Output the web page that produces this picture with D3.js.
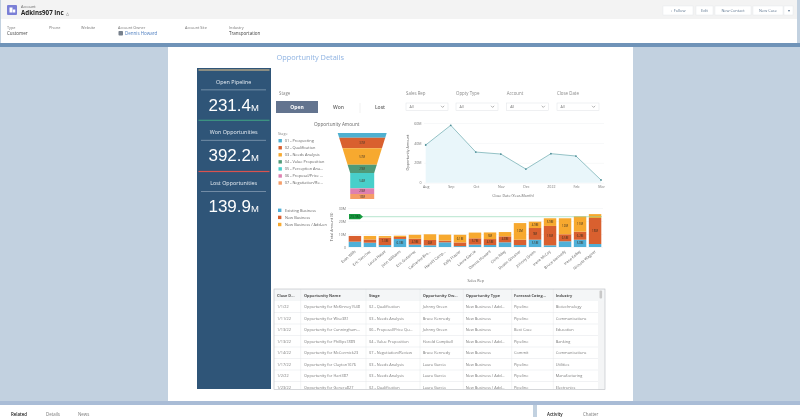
<!DOCTYPE html>
<html>
<head>
<meta charset="utf-8">
<script src="https://cdn.jsdelivr.net/npm/d3@7"></script>
<style>
  html, body { margin: 0; padding: 0; background: #fff; overflow: hidden; }
  svg { display: block; font-family: "Open Sans", sans-serif; filter: blur(0.4px); }
  .axis text { font-size: 3.6px; fill: #777; font-family: "Open Sans", sans-serif; }
  .axis line { stroke: #eef1f3; stroke-width: 0.5; }
  .axis .domain { display: none; }
</style>
</head>
<body>
<div id="chart"></div>
<script>
// funnel
var stages = ["01 - Prospecting", "02 - Qualification", "03 - Needs Analysis", "04 - Value Proposition",
  "05 - Perception Ana...", "06 - Proposal/Price ...", "07 - Negotiation/Re..."];
var stageAmounts = [16.4, 37.4, 57.3, 29.2, 53.8, 19.9, 17.5];
var stageLabels = ["", "37M", "57M", "29M", "54M", "20M", "18M"];
var stageColors = ["#4fb0d0", "#d9602f", "#f7a92f", "#4f9a78", "#48cfca", "#de80b0", "#f59d68"];

// line chart
var months = ["Aug", "Sep", "Oct", "Nov", "Dec", "2022", "Feb", "Mar"];
var monthAmounts = [37.9, 57.7, 30.8, 28.8, 13.7, 29.2, 26.8, 2.7];
var lineTicks = [0, 20, 40, 60];

// stacked bars
var reps = ["Evan Wills", "Eric Sanchez", "Laura Hasse", "John Williams", "Eric Gutierrez", "Catherine Bro...",
  "Harold Camp...", "Kelly Frazier", "Laura Garcia", "Dennis Howard", "Chris Riley", "Dustin Ghosher",
  "Johnny Green", "Irene McCoy", "Bruce Kennedy", "Irene Kelley", "Nichole Wagner"];
var existingBusiness = [4.1, 3.3, 1.5, 6.2, 1.8, 1.3, 3.6, 0.7, 1.8, 1.5, 3.6, 1.5, 5.6, 1.3, 4.4, 5.6, 2.3];
var newBusiness = [4.4, 2.5, 5.6, 1.5, 4.6, 4.1, 1.3, 2.8, 4.9, 4.6, 4.6, 4.1, 9.0, 14.9, 5.4, 6.2, 20.0];
var addOn = [0, 2.7, 1.3, 1.0, 3.0, 4.4, 4.6, 5.9, 4.4, 5.1, 3.3, 12.8, 4.9, 5.9, 12.3, 11.8, 3.0];
var existingLabels = ["", "", "", "6.3M", "", "", "", "", "", "", "", "", "5.5M", "", "", "5.8M", ""];
var newLabels = ["", "", "7.3M", "", "4.9M", "6M", "", "", "5.7M", "4.5M", "4.8M", "", "9M", "15M", "6.5M", "6.2M", "18M"];
var addOnLabels = ["", "", "", "", "", "", "", "6.1M", "", "5M", "", "12M", "4.9M", "5.9M", "12M", "11M", ""];
var seriesNames = ["Existing Business", "New Business", "New Business / Add-on"];
var seriesColors = ["#4fb0d8", "#d9602f", "#f7a92f"];
var barTicks = [0, 10, 20, 30];
var goalValue = 23.3;
var goalLabel = "23.9M";

// kpi panel
var kpiTitles = ["Open Pipeline", "Won Opportunities", "Lost Opportunities"];
var kpiValues = ["231.4", "392.2", "139.9"];
var kpiStripes = ["#c9b48a", "#3f9a82", "#d9534f"];

// table
var tableHeads = ["Close D...", "Opportunity Name", "Stage", "Opportunity Ow...", "Opportunity Type", "Forecast Categ...", "Industry"];
var closeDates = ["1/1/22", "1/11/22", "1/13/22", "1/13/22", "1/14/22", "1/17/22", "1/2/22", "1/23/22"];
var oppNames = ["Opportunity for McKinney1548", "Opportunity for Wise381", "Opportunity for Cunningham...", "Opportunity for Phillips1889",
  "Opportunity for McCormick23", "Opportunity for Clayton1676", "Opportunity for Hart387", "Opportunity for Genera827"];
var oppStages = ["02 - Qualification", "03 - Needs Analysis", "06 - Proposal/Price Qu...", "04 - Value Proposition",
  "07 - Negotiation/Review", "03 - Needs Analysis", "03 - Needs Analysis", "02 - Qualification"];
var owners = ["Johnny Green", "Bruce Kennedy", "Johnny Green", "Harold Campbell", "Bruce Kennedy", "Laura Garcia", "Laura Garcia", "Laura Garcia"];
var oppTypes = ["New Business / Add...", "New Business", "New Business", "New Business / Add...", "New Business", "New Business", "New Business / Add...", "New Business / Add..."];
var forecasts = ["Pipeline", "Pipeline", "Best Case", "Pipeline", "Commit", "Pipeline", "Pipeline", "Pipeline"];
var industries = ["Biotechnology", "Communications", "Education", "Banking", "Communications", "Utilities", "Manufacturing", "Electronics"];

// record header
var fieldNames = ["Type", "Phone", "Website", "Account Owner", "Account Site", "Industry"];
var fieldValues = ["Customer", "", "", "Dennis Howard", "", "Transportation"];
var buttonNames = ["+ Follow", "Edit", "New Contact", "New Case", "▾"];

var svg = d3.select("#chart").append("svg").attr("width", 800).attr("height", 417);

function label(g, x, y, str, size, color, anchor, weight) {
  return g.append("text").attr("x", x).attr("y", y)
    .attr("font-size", size).attr("fill", color)
    .attr("text-anchor", anchor || "start")
    .attr("font-weight", weight || 400)
    .text(str);
}

function rect(g, x, y, w, h, fill) {
  return g.append("rect").attr("x", x).attr("y", y).attr("width", w).attr("height", h).attr("fill", fill);
}

// ---- page background
rect(svg, 0, 0, 800, 417, "#c2d1e0");
rect(svg, 0, 43, 800, 4, "#6f93b8");
rect(svg, 168, 47, 465, 354, "#ffffff");
rect(svg, 0, 401, 800, 4, "#a9bcd6");

// ---- record header
var head = svg.append("g");
rect(head, 1, 0, 796, 43, "#ffffff");
rect(head, 1, 0, 796, 19, "#f3f3f3");
rect(head, 7, 5, 10, 10, "#7a7fd6").attr("rx", 1);
rect(head, 9.5, 7.5, 3, 5, "#ffffff");
rect(head, 12.8, 9.5, 2.5, 3, "#ffffff");
label(head, 21, 8, "Account", 3.9, "#666");
label(head, 21, 15, "Adkins907 Inc", 6.2, "#222", "start", 700);
label(head, 66, 14.5, "△", 4, "#666");

var fieldX = [7, 49, 81, 118, 185, 229];
fieldNames.forEach(function(name, i) {
  label(head, fieldX[i], 28.5, name, 3.8, "#777");
  var isLink = fieldValues[i] === "Dennis Howard";
  label(head, fieldX[i] + (isLink ? 7 : 0), 35, fieldValues[i], 4.5, isLink ? "#4f7fc0" : "#444");
});
rect(head, 118.5, 31, 4.5, 4.5, "#77808c").attr("rx", 0.8);

var buttonX = [663, 696, 715, 753, 784];
var buttonW = [30, 17, 36, 30, 9];
buttonNames.forEach(function(name, i) {
  rect(head, buttonX[i], 6, buttonW[i], 9, "#ffffff").attr("stroke", "#e2e5e8").attr("stroke-width", 0.4);
  label(head, buttonX[i] + buttonW[i] / 2, 12, name, 3.9, "#5e7690", "middle");
});

// ---- footer tabs
var foot = svg.append("g");
rect(foot, 0, 405, 533, 12, "#ffffff");
rect(foot, 537, 405, 263, 12, "#ffffff");
label(foot, 11, 416, "Related", 4.4, "#222", "start", 600);
label(foot, 46, 416, "Details", 4.4, "#777");
label(foot, 78, 416, "News", 4.4, "#777");
label(foot, 547, 416, "Activity", 4.4, "#222", "start", 600);
label(foot, 583, 416, "Chatter", 4.4, "#777");

// ---- dashboard title
label(svg, 276.5, 60, "Opportunity Details", 7.4, "#8fb3e2");

// ---- kpi panel
var kpi = svg.append("g");
rect(kpi, 197, 68, 74, 321, "#2f5578");
var kpiTop = [70, 120.3, 171.5];
kpiTitles.forEach(function(name, i) {
  var y = kpiTop[i];
  rect(kpi, 198.5, y - 0.6, 71, 1.2, kpiStripes[i]);
  label(kpi, 233.7, y + 13.8, name, 5.4, "#e8eef4", "middle", 500);
  rect(kpi, 201, y + 19.6, 65, 0.6, "#9fb3c6");
  var val = label(kpi, 233.7, y + 40.5, kpiValues[i], 17, "#ffffff", "middle")
    .attr("font-family", "'Liberation Sans', sans-serif");
  val.append("tspan").attr("font-size", 9.5).text("M");
});

// ---- filters
var filters = svg.append("g");
label(filters, 279, 94.5, "Stage", 4.4, "#888");
rect(filters, 276, 101, 42, 12, "#63748f");
label(filters, 297, 109, "Open", 5, "#ffffff", "middle", 700);
label(filters, 338.5, 109, "Won", 5, "#666", "middle", 600);
label(filters, 380, 109, "Lost", 5, "#666", "middle", 600);
filters.append("line").attr("x1", 360).attr("x2", 360).attr("y1", 103).attr("y2", 113).attr("stroke", "#e3e3e3").attr("stroke-width", 0.5);
var selectNames = ["Sales Rep", "Oppty Type", "Account", "Close Date"];
var selectX = [406, 456, 506.7, 557];
selectNames.forEach(function(name, i) {
  label(filters, selectX[i], 94.5, name, 4.4, "#888");
  rect(filters, selectX[i], 103, 42, 7.6, "#ffffff").attr("stroke", "#dfe2e5").attr("stroke-width", 0.5);
  label(filters, selectX[i] + 3.5, 108.3, "All", 3.6, "#777");
  filters.append("path")
    .attr("d", "M" + (selectX[i] + 35) + ",105.8l1.6,1.6l1.6,-1.6")
    .attr("fill", "none").attr("stroke", "#666").attr("stroke-width", 0.5);
});

// ---- funnel
var funnel = svg.append("g");
label(funnel, 336.7, 126, "Opportunity Amount", 4.7, "#666", "middle");
label(funnel, 278, 134.5, "Stage", 3.7, "#888");

var funnelStops = [0];
stageAmounts.forEach(function(d, i) { funnelStops.push(funnelStops[i] + d); });
var funnelY = d3.scaleLinear().domain([0, d3.sum(stageAmounts)]).range([133, 199]);
var funnelW = d3.scaleLinear().domain([0, funnelStops[4]]).range([49, 24]).clamp(true);
var funnelCx = 362.2;

funnel.selectAll("path.stage").data(stageAmounts).enter().append("path")
  .attr("class", "stage")
  .attr("fill", function(d, i) { return stageColors[i]; })
  .attr("d", function(d, i) {
    var a = funnelStops[i], b = funnelStops[i + 1];
    var p = [[funnelCx - funnelW(a) / 2, funnelY(a)], [funnelCx + funnelW(a) / 2, funnelY(a)],
      [funnelCx + funnelW(b) / 2, funnelY(b)], [funnelCx - funnelW(b) / 2, funnelY(b)]];
    return d3.line()(p) + "Z";
  });
funnel.selectAll("text.stage-label").data(stageLabels).enter().append("text")
  .attr("class", "stage-label")
  .attr("x", funnelCx)
  .attr("y", function(d, i) { return funnelY((funnelStops[i] + funnelStops[i + 1]) / 2) + 1; })
  .attr("text-anchor", "middle").attr("font-size", 2.9).attr("fill", "#4a3a2a")
  .text(function(d) { return d; });

stages.forEach(function(name, i) {
  var y = 140.7 + i * 7.05;
  rect(funnel, 278.5, y - 1.7, 3.4, 3.4, stageColors[i]);
  label(funnel, 284.7, y + 1.3, name, 3.9, "#666");
});

// ---- line chart
var lineG = svg.append("g");
var lineX = d3.scalePoint().domain(months).range([425.7, 601]);
var lineY = d3.scaleLinear().domain([0, 60]).range([182.7, 123]);

lineG.append("g").attr("class", "axis")
  .attr("transform", "translate(424,0)")
  .call(d3.axisLeft(lineY).tickValues(lineTicks).tickSize(-180).tickPadding(2.5)
    .tickFormat(function(d) { return d ? d + "M" : "0"; }));
lineG.append("g").attr("class", "axis")
  .attr("transform", "translate(0,182.7)")
  .call(d3.axisBottom(lineX).tickSize(0).tickPadding(3));

lineG.append("path").datum(monthAmounts)
  .attr("fill", "#e9f6fa")
  .attr("d", d3.area()
    .x(function(d, i) { return lineX(months[i]); })
    .y0(lineY(0))
    .y1(function(d) { return lineY(d); }));
lineG.append("path").datum(monthAmounts)
  .attr("fill", "none").attr("stroke", "#6aa9ad").attr("stroke-width", 0.7)
  .attr("d", d3.line()
    .x(function(d, i) { return lineX(months[i]); })
    .y(function(d) { return lineY(d); }));
lineG.selectAll("circle").data(monthAmounts).enter().append("circle")
  .attr("cx", function(d, i) { return lineX(months[i]); })
  .attr("cy", function(d) { return lineY(d); })
  .attr("r", 0.9).attr("fill", "#4f8f98");

label(lineG, 513, 197, "Close Date (Year-Month)", 3.7, "#666", "middle");
label(lineG, 0, 0, "Opportunity Amount", 3.7, "#666", "middle")
  .attr("transform", "translate(409,152.5) rotate(-90)");

// ---- stacked bars
var barG = svg.append("g");
var barX = d3.scaleBand().domain(reps).range([347.5, 602.5]).paddingInner(0.17).paddingOuter(0.08);
var barY = d3.scaleLinear().domain([0, 30]).range([247, 208]);

barG.append("g").attr("class", "axis")
  .attr("transform", "translate(348,0)")
  .call(d3.axisLeft(barY).tickValues(barTicks).tickSize(-255).tickPadding(2)
    .tickFormat(function(d) { return d ? d + "M" : "0"; }));

var stackRows = reps.map(function(r, i) {
  return { rep: r, a: existingBusiness[i], b: newBusiness[i], c: addOn[i] };
});
var stacked = d3.stack().keys(["a", "b", "c"])(stackRows);
var stackLabels = [existingLabels, newLabels, addOnLabels];

stacked.forEach(function(layer, s) {
  barG.selectAll("rect.s" + s).data(layer).enter().append("rect")
    .attr("class", "s" + s)
    .attr("x", function(d) { return barX(d.data.rep); })
    .attr("width", barX.bandwidth())
    .attr("y", function(d) { return barY(d[1]); })
    .attr("height", function(d) { return barY(d[0]) - barY(d[1]); })
    .attr("fill", seriesColors[s]);
  barG.selectAll("text.s" + s).data(layer).enter().append("text")
    .attr("class", "s" + s)
    .attr("x", function(d) { return barX(d.data.rep) + barX.bandwidth() / 2; })
    .attr("y", function(d) { return barY((d[0] + d[1]) / 2) + 1; })
    .attr("text-anchor", "middle").attr("font-size", 2.9).attr("fill", "#3d3020")
    .text(function(d, i) { return stackLabels[s][i]; });
});

// goal line with its flag
var goalY = barY(goalValue);
barG.append("line").attr("x1", 349).attr("x2", 602).attr("y1", goalY).attr("y2", goalY)
  .attr("stroke", "#86d3ae").attr("stroke-width", 0.6);
barG.append("path")
  .attr("d", "M349," + (goalY - 2.6) + "h11l3,2.6l-3,2.6h-11z")
  .attr("fill", "#169a3e");
label(barG, 355, goalY + 1.2, goalLabel, 3.4, "#0c4a20", "middle");

barG.selectAll("text.rep").data(reps).enter().append("text")
  .attr("class", "rep")
  .attr("transform", function(d) {
    return "translate(" + (barX(d) + barX.bandwidth() / 2 + 1) + ",252) rotate(-40)";
  })
  .attr("text-anchor", "end").attr("font-size", 3.8).attr("fill", "#666")
  .text(function(d) { return d; });

label(barG, 475.7, 282, "Sales Rep", 3.7, "#666", "middle");
label(barG, 0, 0, "Total Amount ($)", 3.7, "#666", "middle")
  .attr("transform", "translate(333,227) rotate(-90)");

seriesNames.forEach(function(name, i) {
  var y = 210.3 + i * 7.1;
  rect(barG, 278, y - 1.7, 3.4, 3.4, seriesColors[i]);
  label(barG, 285, y + 1.3, name, 3.9, "#666");
});

// ---- table
var table = svg.append("g");
var colX = [277, 304, 369, 422.7, 465.7, 514, 555.7];
var colLines = [300.7, 366, 420, 463.3, 511.7, 553.3];
var tableCols = [closeDates, oppNames, oppStages, owners, oppTypes, forecasts, industries];
var rowH = 11.5, headBottom = 301;

svg.append("defs").append("clipPath").attr("id", "table-clip")
  .append("rect").attr("x", 274).attr("y", 289).attr("width", 331).attr("height", 100.5);

var tableBody = table.append("g").attr("clip-path", "url(#table-clip)");
rect(tableBody, 274, 289, 331, 12, "#f4f6f7");
rect(tableBody, 598, 301, 7, 89, "#f4f5f6");
colLines.forEach(function(x) {
  tableBody.append("line").attr("x1", x).attr("x2", x).attr("y1", 289).attr("y2", 390)
    .attr("stroke", "#e6e8ea").attr("stroke-width", 0.5);
});
d3.range(closeDates.length).forEach(function(r) {
  var y = headBottom + rowH * (r + 1);
  tableBody.append("line").attr("x1", 274).attr("x2", 598).attr("y1", y).attr("y2", y)
    .attr("stroke", "#e2e5e8").attr("stroke-width", 0.5);
});
tableHeads.forEach(function(name, c) {
  label(tableBody, colX[c], 297, name, 3.9, "#555", "start", 700);
  tableCols[c].forEach(function(v, r) {
    label(tableBody, colX[c], headBottom + rowH * r + 7.2, v, 3.9, "#7c7c7c");
  });
});
rect(tableBody, 599.5, 290.5, 2.6, 8, "#c9c9c9").attr("rx", 1);
table.append("rect").attr("x", 274).attr("y", 289).attr("width", 331).attr("height", 100.5)
  .attr("fill", "none").attr("stroke", "#b9bdc1").attr("stroke-width", 0.6);
</script>
</body>
</html>
